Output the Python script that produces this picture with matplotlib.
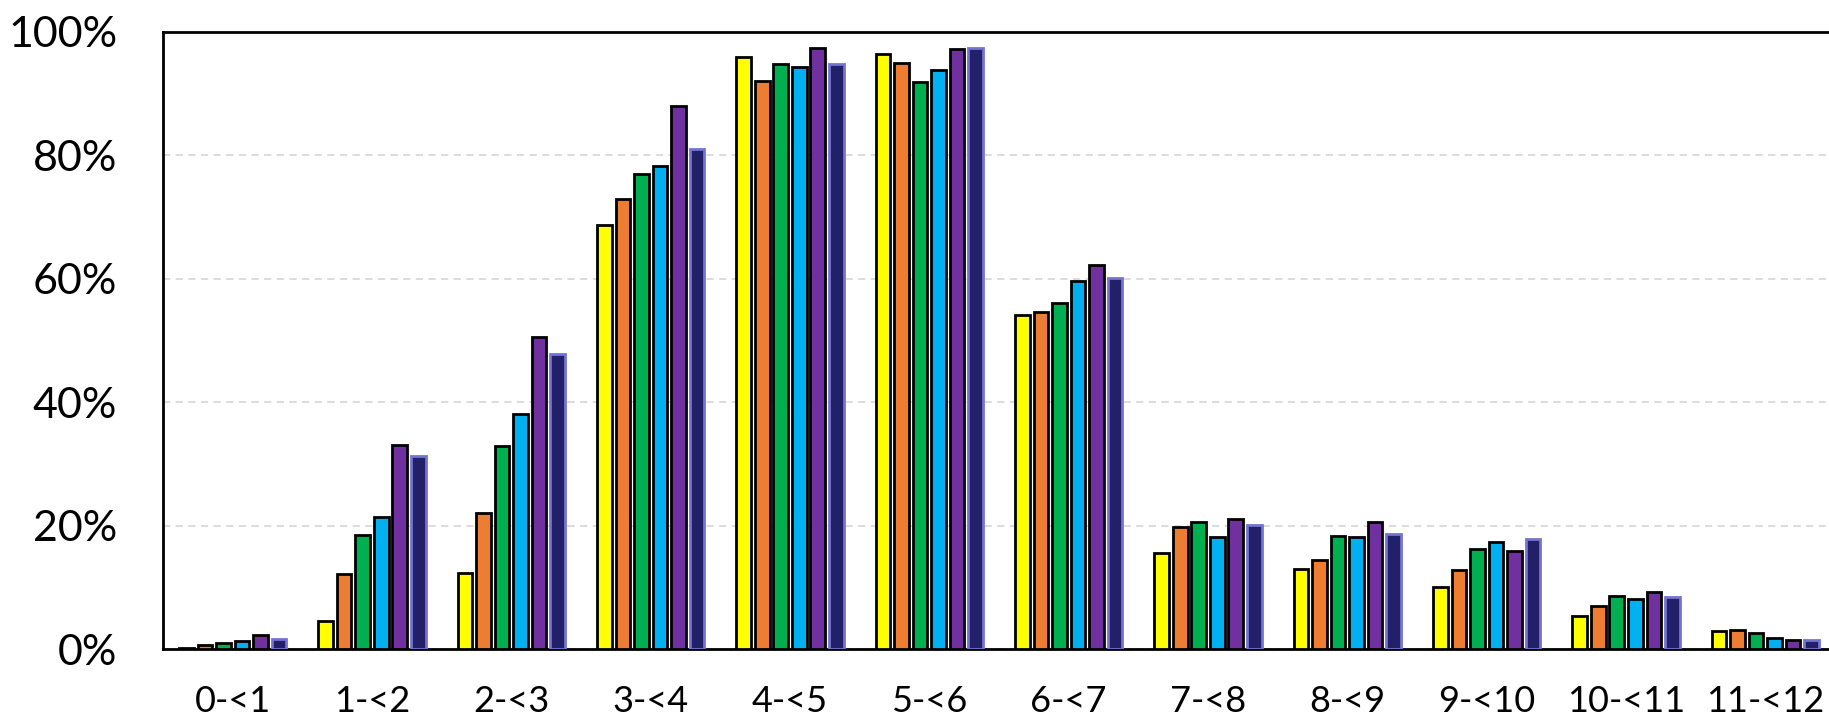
import numpy as np
import matplotlib.pyplot as plt
from matplotlib.ticker import FuncFormatter

# age bins on the x axis
categories = ["0-<1", "1-<2", "2-<3", "3-<4", "4-<5", "5-<6",
              "6-<7", "7-<8", "8-<9", "9-<10", "10-<11", "11-<12"]

# share per bin (%), one list per series
s1 = [0.2, 4.6, 12.3, 68.7, 95.9, 96.4, 54.1, 15.5, 13.0, 10.0, 5.4, 2.9]
s2 = [0.6, 12.2, 22.1, 72.9, 92.0, 94.9, 54.6, 19.7, 14.4, 12.8, 6.9, 3.0]
s3 = [1.0, 18.5, 32.9, 76.9, 94.8, 91.8, 56.1, 20.6, 18.3, 16.2, 8.6, 2.6]
s4 = [1.35, 21.4, 38.0, 78.3, 94.3, 93.7, 59.6, 18.2, 18.1, 17.4, 8.1, 1.8]
s5 = [2.3, 33.0, 50.6, 87.9, 97.4, 97.2, 62.2, 21.0, 20.6, 15.9, 9.3, 1.5]
s6 = [1.7, 31.3, 47.8, 80.9, 94.7, 97.3, 60.1, 20.1, 18.7, 17.8, 8.5, 1.5]

series = [s1, s2, s3, s4, s5, s6]
colors = ["#FFFF00", "#ED7D31", "#00B050", "#00B0F0", "#7030A0", "#212068"]
edges = ["black", "black", "black", "black", "black", "#7474D0"]

plt.rcParams['font.family'] = ['Lato', 'DejaVu Sans']

fig = plt.figure(figsize=(18.29, 7.2), dpi=100)
ax = fig.add_axes([0.0891, 0.0986, 0.9142, 0.8576])

x = np.arange(len(categories))
pitch = 0.133
width = 0.105
for i, vals in enumerate(series):
    ax.bar(x + (i - 2.5) * pitch, np.array(vals) / 100, width,
           color=colors[i], edgecolor=edges[i], linewidth=2, zorder=3)

ax.set_xlim(-0.5, 11.5)
ax.set_ylim(0, 1)
ax.set_yticks([0, 0.2, 0.4, 0.6, 0.8, 1.0])
ax.yaxis.set_major_formatter(FuncFormatter(lambda v, p: f"{v*100:.0f}%"))
ax.set_xticks(x)
ax.set_xticklabels(categories)

ax.tick_params(axis='y', length=0, pad=33, labelsize=31)
ax.tick_params(axis='x', length=0, pad=26, labelsize=26)

ax.grid(axis='y', color='#D9D9D9', linestyle=(0, (4, 3)), linewidth=1.3, zorder=0)
ax.set_axisbelow(True)

for side in ['left', 'top', 'bottom']:
    ax.spines[side].set_linewidth(2)
    ax.spines[side].set_color('black')
ax.spines['right'].set_visible(False)

fig.savefig("out.png", dpi=100)
